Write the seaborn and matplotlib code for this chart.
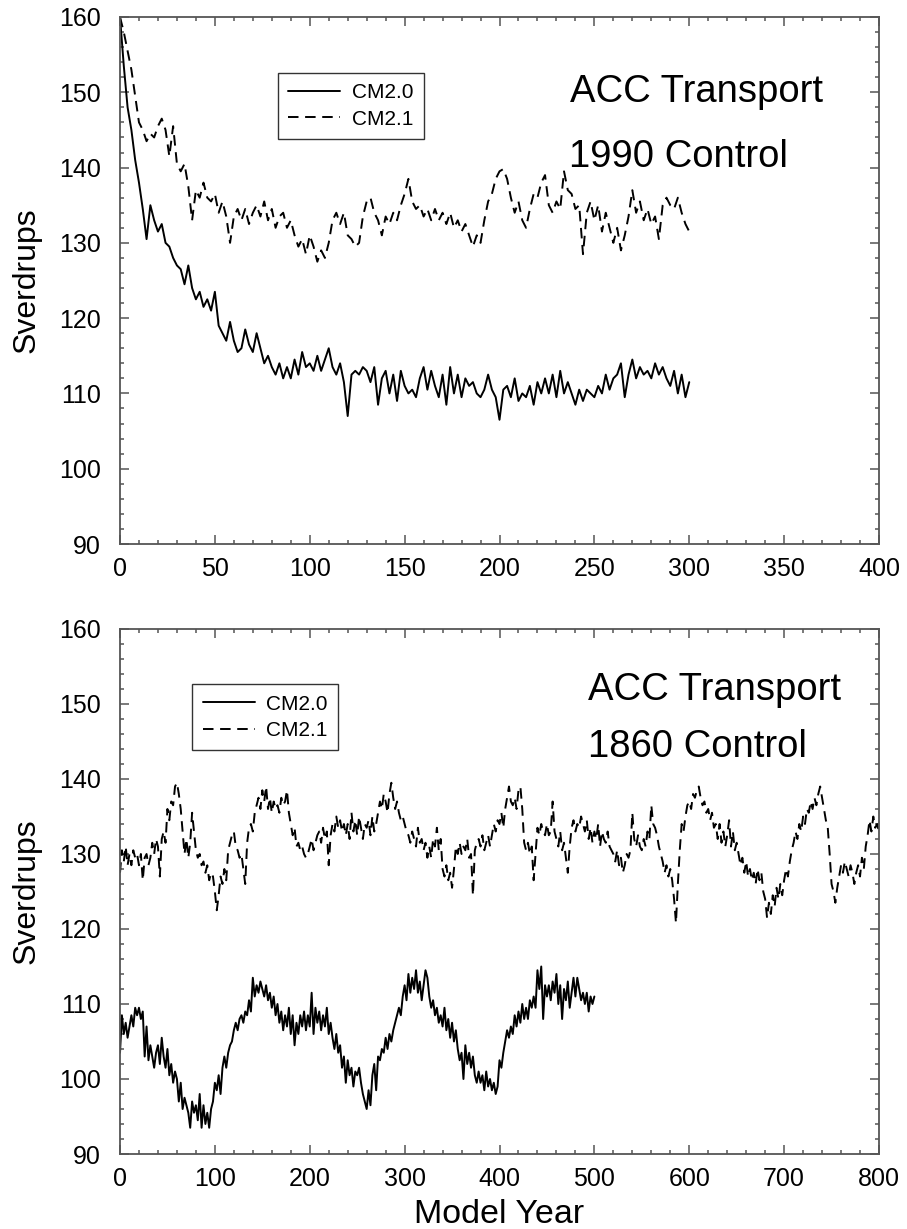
import numpy as np
import matplotlib
matplotlib.use("Agg")
import matplotlib.pyplot as plt
from matplotlib.ticker import MultipleLocator
import seaborn as sns

# ---------------- data (Sverdrups, sampled every 2 model years) ----------------
years_1990 = np.arange(0, 301, 2)

acc_1990_cm20 = [
    160, 153.5, 148, 145, 141, 138, 134.5, 130.5, 135, 133,
    131.5, 132.5, 130, 129.5, 128, 127, 126.5, 124.5, 127, 124,
    122.5, 123.5, 121.5, 122.5, 121, 123.5, 119, 118, 117, 119.5,
    117, 115.5, 116, 118.5, 116.5, 115.5, 118, 116, 114, 115,
    113.5, 112.5, 114, 112, 113.5, 112, 114.5, 112.5, 115.5, 113.5,
    114, 113, 115, 113, 114.5, 116, 113.5, 112.5, 114, 111.5,
    107, 112.5, 113, 112.5, 113.5, 113, 111.5, 113.5, 108.5, 112,
    113, 110, 112.5, 109, 113, 111, 110, 110.5, 109.5, 112,
    113.5, 110.5, 113, 111, 109.5, 112.5, 108.5, 113.5, 110, 112.5,
    109.5, 112, 111, 111.5, 110, 109.5, 110.5, 112.5, 110.5, 109.5,
    106.5, 110.5, 111, 109.5, 112, 109, 110, 109.5, 111, 108.5,
    111.5, 110, 112, 110, 112.5, 109.5, 113, 110, 111.5, 110,
    108.5, 110.5, 109, 110.5, 110, 109.5, 111, 110, 112.5, 110.5,
    112, 112.5, 114, 109.5, 112.5, 114.5, 112, 113.5, 112.5, 113,
    112, 114, 112.5, 113.5, 112, 111, 113, 110, 112.5, 109.5,
    111.5,
]

acc_1990_cm21 = [
    160, 158, 155.5, 153, 149.5, 146, 145, 143.5, 144.5, 144,
    145.5, 146.5, 145, 141.5, 145.5, 140.5, 139.5, 140.5, 137.5, 133,
    137, 136, 138, 136, 135.5, 136.5, 134, 135.5, 133.5, 130,
    133.5, 134.5, 133, 134.5, 132.5, 134, 135, 133.5, 135.5, 133,
    134.5, 132, 133.5, 134, 132, 133, 131, 129.5, 130.5, 128.5,
    131, 129.5, 127.5, 129, 128, 130, 133, 134, 132.5, 134,
    131, 130.5, 129.5, 130, 133.5, 135.5, 136, 134, 133, 131,
    133.5, 132.5, 134, 133, 135, 136.5, 138.5, 135.5, 134.5, 135,
    133.5, 134.5, 133, 134.5, 133, 134, 132.5, 134, 132, 133,
    131.5, 132.5, 131, 129.5, 131, 130, 133, 135.5, 136.5, 138.5,
    139.5, 139.8, 138.5, 136, 134, 135.5, 133, 132, 134.5, 136.5,
    136, 138, 139, 135, 134, 135.5, 134.5, 139.5, 137, 136.5,
    134.5, 135, 128.5, 134, 135.5, 133, 135, 131.5, 134, 132,
    130, 132, 129, 131, 133.5, 137, 134, 135.5, 133, 134.5,
    132.5, 133.5, 130.5, 135, 136, 135, 134.5, 136, 134, 132.5,
    131.5,
]

years_1860_cm20 = np.arange(0, 501, 2)
acc_1860_cm20 = [
    103.5, 108.5, 106, 107.5, 105.5, 107, 108.5, 107, 109.5, 108.5,
    109.5, 108, 109, 103, 107, 102.5, 104.5, 103, 101.5, 103.5,
    104.5, 102, 105.5, 103, 101.5, 104, 100.5, 102, 99.5, 101,
    100, 97, 99.5, 96, 97.5, 96.5, 95.5, 93.5, 97, 95.5,
    96.5, 94.5, 98, 93.5, 96.5, 94, 95.5, 93.5, 96, 97,
    99.5, 98.5, 100.5, 98, 101.5, 103, 101.5, 103.5, 104.5, 105,
    106.5, 107.5, 106.5, 108, 108.5, 107.5, 109, 108.5, 110.5, 109,
    113.5, 111, 112.5, 111.5, 113, 112, 111, 112.5, 110.5, 111.5,
    109.5, 111, 108.5, 110, 107.5, 109, 106.5, 108.5, 107, 109.5,
    106, 108.5, 104.5, 107.5, 106, 108.5, 107, 109, 106.5, 108.5,
    107, 111.5, 106, 109.5, 107.5, 109, 106.5, 108.5, 107, 109.5,
    106, 107.5, 105.5, 104, 106, 103.5, 104.5, 101.5, 103, 99.5,
    102.5, 100.5, 101.5, 99, 101, 100.5, 101.5, 99.5, 98, 97,
    96, 98.5, 96.5, 100.5, 102, 98.5, 103, 102.5, 104, 103.5,
    105.5, 104, 106, 105, 106.5, 107.5, 108.5, 109.5, 108.5, 111,
    112.5, 110.5, 114, 111.5, 113.5, 112, 114.5, 111.5, 113, 110.5,
    112.5, 114.5, 113.5, 111, 109.5, 110.5, 108.5, 109.5, 107.5, 108.5,
    107, 109.5, 106.5, 108, 105.5, 107.5, 105, 106.5, 104, 102.5,
    103.5, 100, 104.5, 102, 103.5, 101.5, 103, 100.5, 99.5, 101,
    99.5, 100.5, 98.5, 101, 99, 100, 98.5, 99.5, 98, 99,
    102.5, 101.5, 103.5, 105, 106.5, 105.5, 107, 106, 108.5, 107,
    109, 107.5, 110, 108, 109.5, 108, 110.5, 109.5, 111, 109.5,
    114.5, 112, 115, 108, 112.5, 111, 112.5, 110.5, 113, 111.5,
    114, 110, 112.5, 108, 112, 110.5, 113, 109.5, 111.5, 113.5,
    111, 113.5, 112, 110.5, 111.5, 110, 111.5, 109, 111, 110,
    111,
]

years_1860_cm21 = np.arange(0, 801, 2)
acc_1860_cm21 = [
    127.5, 130.5, 129, 131, 128.5, 130, 128.5, 130.5, 129.5, 130,
    128.5, 130, 126.5, 129.5, 130, 128.5, 129.5, 131.5, 130, 132,
    131, 127, 132, 133, 131.5, 136, 134.5, 137, 136.5, 139,
    139.5, 138, 136, 133, 130, 132, 129.5, 131.5, 135.5, 133,
    130.5, 129.5, 130, 128.5, 129, 127.5, 128.5, 126.5, 127.5, 127,
    125, 122.5, 124.5, 127, 126, 128, 126.5, 130.5, 131.5, 132.5,
    133, 131, 130.5, 129.5, 130, 128, 126, 131.5, 133.5, 134,
    133, 135.5, 136.5, 137.5, 136, 138.5, 137, 139, 136, 137.5,
    135.5, 137, 136, 136.5, 135.5, 137.5, 136.5, 137, 138.5, 135.5,
    134, 132.5, 133.5, 131, 131.5, 130.5, 131, 130, 129.5, 130,
    131, 132, 130.5, 131.5, 132.5, 133, 131.5, 133.5, 132, 133,
    128.5, 132.5, 134, 133, 135, 133.5, 134.5, 133, 134, 132.5,
    134, 132, 135.5, 133, 134.5, 132.5, 135, 133.5, 132, 134,
    133.5, 134.5, 132.5, 135, 133, 134, 135.5, 137, 136, 138,
    137, 135.5, 138, 139.5, 137.5, 136, 137, 135.5, 134.5, 135,
    134, 133, 132.5, 131.5, 133, 132, 131, 133.5, 131.5, 132,
    130.5, 131.5, 129.5, 131, 129.5, 132, 131, 133.5, 130.5, 132,
    128, 127, 128.5, 126.5, 127.5, 125.5, 128, 131, 130, 131.5,
    130, 131, 130.5, 132, 129.5, 130, 124.5, 130.5, 131.5, 132,
    131, 132.5, 130.5, 131.5, 132.5, 131, 132.5, 134, 133, 134.5,
    134, 135.5, 133.5, 136, 137.5, 139, 137, 136.5, 137.5, 136,
    138.5, 139, 136, 131.5, 130.5, 131.5, 130, 131, 126.5, 130,
    133.5, 132.5, 134, 133, 132.5, 134, 132.5, 133, 137, 133,
    132, 131, 133, 130.5, 131.5, 129.5, 127.5, 131, 133.5, 134.5,
    133, 134, 133.5, 135, 134, 133, 134.5, 132, 133.5, 131.5,
    133, 132, 134, 131, 133, 132, 131.5, 133, 131, 130.5,
    130, 129, 130.5, 128.5, 129.5, 127.5, 128.5, 130, 129.5, 130.5,
    135.5, 132, 131, 132.5, 131, 130.5, 132, 131, 133, 132,
    136.5, 134, 133.5, 132.5, 131, 130, 129, 127.5, 128.5, 127,
    128, 126.5, 124, 120.8, 126, 130.5, 134, 133, 135, 136.5,
    137, 136, 138, 137.5, 138.5, 139, 137.5, 136.5, 137, 135.5,
    136, 134.5, 135.5, 133.5, 134, 132, 134, 131.5, 133, 131,
    132.5, 134.5, 131, 133, 130.5, 131.5, 130, 128.5, 129.5, 127.5,
    129, 127, 128, 126.5, 127.5, 126, 128, 126.5, 127.5, 125,
    124, 121.5, 123.5, 122, 124.5, 123, 125.5, 124, 126, 124.5,
    126.5, 128, 127, 129, 130.5, 131.5, 133, 132, 134, 133,
    135, 134, 136, 135.5, 137, 136, 137.5, 136.5, 138, 139,
    137.5, 136, 134.5, 133.5, 130, 126, 125, 123.5, 125.5, 127,
    128.5, 127.5, 129, 128, 127, 128.5, 127.5, 126, 127.5, 128.5,
    127, 129.5, 128, 131, 132.5, 134.5, 133, 135, 133.5, 134,
    133,
]

series_labels = ["CM2.0", "CM2.1"]
panel_titles = [("ACC Transport", "1990 Control"), ("ACC Transport", "1860 Control")]
y_label = "Sverdrups"
x_label = "Model Year"

# ---------------- style ----------------
sns.set_style("ticks")
plt.rcParams["font.family"] = ["Liberation Sans", "DejaVu Sans"]
plt.rcParams["text.color"] = "black"
plt.rcParams["axes.labelcolor"] = "black"

W, H = 907, 1229
fig = plt.figure(figsize=(W / 100, H / 100), dpi=100)

spine_col = "#555555"
line_kw = dict(color="black", linewidth=1.4)
dash_style = (0, (5.4, 3.4))

ax_top = fig.add_axes([120 / W, 1 - 544 / H, 759 / W, 527 / H])
ax_bot = fig.add_axes([120 / W, 1 - 1154 / H, 759 / W, 525 / H])


def style_axes(ax, xmax, xmajor, xminor):
    ax.set_xlim(0, xmax)
    ax.set_ylim(90, 160)
    ax.xaxis.set_major_locator(MultipleLocator(xmajor))
    ax.xaxis.set_minor_locator(MultipleLocator(xminor))
    ax.yaxis.set_major_locator(MultipleLocator(10))
    ax.yaxis.set_minor_locator(MultipleLocator(2))
    ax.tick_params(which="both", direction="in", top=True, right=True,
                   color=spine_col, width=1.1, labelcolor="black")
    ax.tick_params(which="major", length=6.2, labelsize=18)
    ax.tick_params(which="minor", length=3.0)
    ax.tick_params(axis="y", which="major", pad=14)
    ax.tick_params(axis="x", which="major", pad=9)
    for s in ax.spines.values():
        s.set_visible(True)
        s.set_color(spine_col)
        s.set_linewidth(1.3)
    ax.set_ylabel(y_label, fontsize=23)
    ax.yaxis.set_label_coords(-0.103, 0.5)
    ax.set_xlabel("")


# ---- 1990 control ----
sns.lineplot(x=years_1990, y=acc_1990_cm20, ax=ax_top, label=series_labels[0],
             sort=False, **line_kw)
sns.lineplot(x=years_1990, y=acc_1990_cm21, ax=ax_top, label=series_labels[1],
             sort=False, linestyle=dash_style, **line_kw)
style_axes(ax_top, 400, 50, 10)

# ---- 1860 control ----
sns.lineplot(x=years_1860_cm20, y=acc_1860_cm20, ax=ax_bot, label=series_labels[0],
             sort=False, **line_kw)
sns.lineplot(x=years_1860_cm21, y=acc_1860_cm21, ax=ax_bot, label=series_labels[1],
             sort=False, linestyle=dash_style, **line_kw)
style_axes(ax_bot, 800, 100, 20)
ax_bot.set_xlabel(x_label, fontsize=24.5)
ax_bot.xaxis.set_label_coords(0.5, -0.085)

# legends
for ax, anchor in ((ax_top, (0.208, 0.894)), (ax_bot, (0.095, 0.895))):
    leg = ax.legend(loc="upper left", bbox_to_anchor=anchor, borderaxespad=0,
                    fontsize=15, frameon=True, fancybox=False, framealpha=1,
                    edgecolor="#333333", handlelength=2.5, handletextpad=0.55,
                    labelspacing=0.35, borderpad=0.5)
    leg.get_frame().set_linewidth(1.0)
    for t in leg.get_texts():
        t.set_color("black")

# panel annotations
ax_top.text(0.593, 0.839, panel_titles[0][0], transform=ax_top.transAxes,
            fontsize=27.5, ha="left", va="baseline")
ax_top.text(0.592, 0.715, panel_titles[0][1], transform=ax_top.transAxes,
            fontsize=27.5, ha="left", va="baseline")
ax_bot.text(0.617, 0.865, panel_titles[1][0], transform=ax_bot.transAxes,
            fontsize=27.5, ha="left", va="baseline")
ax_bot.text(0.616, 0.756, panel_titles[1][1], transform=ax_bot.transAxes,
            fontsize=27.5, ha="left", va="baseline")

fig.savefig("out.png", dpi=100)
